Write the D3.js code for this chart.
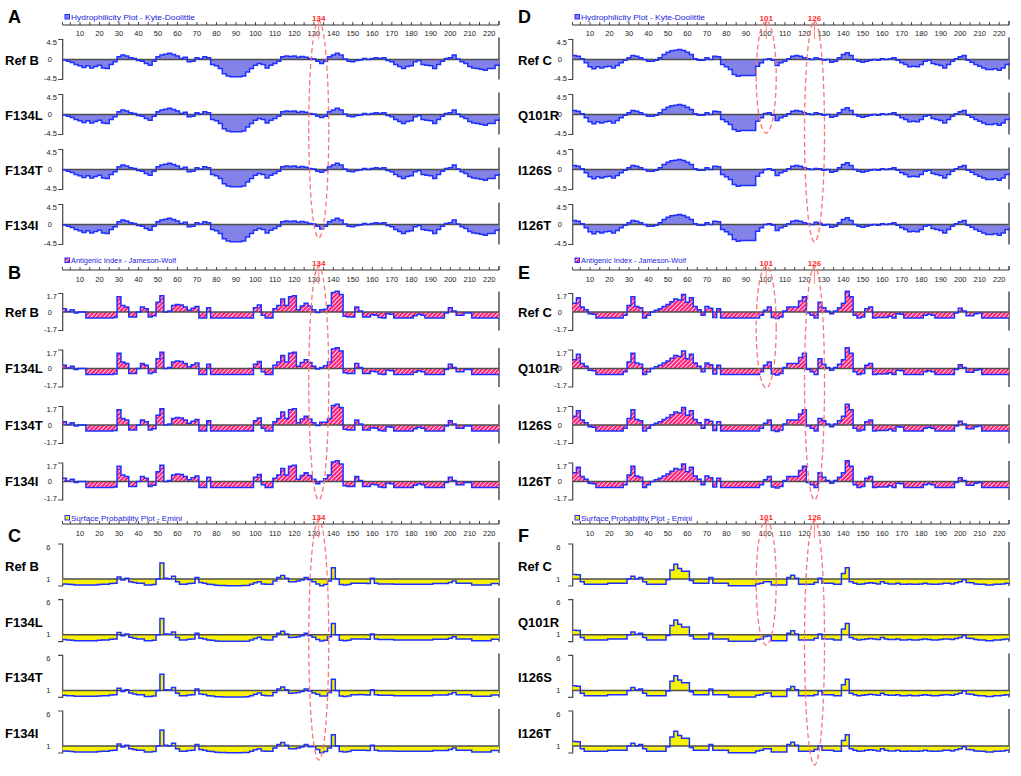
<!DOCTYPE html>
<html>
<head>
<meta charset="utf-8">
<script src="https://cdn.jsdelivr.net/npm/d3@7"></script>
<style>
  body { margin: 0; background: #fff; }
  svg { display: block; }
  text { font-family: Arial, "Liberation Sans", sans-serif; }
</style>
</head>
<body>
<div id="chart"></div>
<script>
// Each value covers a 2-residue bin: bin i = residues 1+2i .. 2+2i
const seqLength = 225;
const binSize = 2;

const tickLabels = d3.range(10, 221, 10);
const tickMarks = [1].concat(d3.range(5, 226, 5));

const hydroTicks = [4.5, 0, -4.5];
const antiTicks = [1.7, 0, -1.7];
const surfTicks = [6, 1];

// Kyte-Doolittle hydrophilicity, reference B
const hydroRefB = [
  -0.1, -0.4, -0.7, -1.1, -1.4, -1.8, -1.4, -1.9, -1.6, -1.3,
  -1.9, -2.0, -1.1, -0.5, 0.6, 1.0, 0.8, 0.4, 0.2, -0.2,
  -0.4, -0.9, -1.3, -0.4, 0.6, 1.0, 1.2, 1.4, 1.1, 0.8,
  0.2, 0.5, -0.5, -0.4, 0.4, 0.1, 0.6, 0.4, -1.1, -1.4,
  -2.0, -3.2, -3.7, -3.9, -3.9, -3.9, -3.7, -2.8, -2.0, -1.3,
  -0.9, -1.1, -1.9, -1.3, -0.9, -0.4, 0.6, 0.8, 0.7, 0.8,
  0.5, 0.7, 0.5, 0.2, 0.1, -0.4, -0.9, -0.4, 0.6, 1.0,
  1.4, 1.0, 0.1, -0.4, -0.5, -0.2, -0.1, 0.2, 0.0, 0.2,
  0.4, 0.2, 0.4, -0.2, -0.5, -1.1, -1.6, -2.0, -1.6, -1.4,
  -0.5, -0.2, -1.1, -1.3, -1.4, -2.0, -1.1, -0.4, 0.2, 0.4,
  1.0, 0.1, -0.5, -0.9, -1.6, -1.9, -2.0, -2.2, -2.4, -2.0,
  -2.0, -1.3, -0.9
];
// reference C
const hydroRefC = [
  0.9, 0.75, 0.15, -0.75, -1.65, -2.1, -1.65, -1.9, -1.65, -1.5,
  -1.9, -1.35, -0.75, -0.15, 0.4, 0.9, 0.75, 0.4, 0, -0.4,
  -0.4, -0.15, 0.4, 1.1, 1.65, 1.95, 2.1, 2.25, 2.0, 1.65,
  1.1, 0.15, -0.15, -0.15, 0.4, 0, 0.75, 0.6, -1.1, -1.65,
  -2.25, -3.4, -3.75, -3.6, -3.6, -3.6, -3.6, -1.5, -0.75, 0,
  0.15, -0.15, -1.35, -0.75, -0.4, 0.15, 0.75, 0.9, 0.75, 0.4,
  0.15, 0, 0.4, 0.15, -0.15, 0, -0.6, -0.4, 0.4, 1.1,
  1.5, 0.9, 0, -0.4, -0.6, -0.4, -0.15, 0, -0.15, 0.15,
  0, 0.15, 0.4, -0.15, -0.75, -1.1, -1.65, -1.5, -1.65, -1.1,
  -0.4, -0.15, -0.9, -1.1, -1.35, -1.9, -1.1, -0.4, 0.15, 0.6,
  0.9, -0.15, -0.6, -1.1, -1.5, -1.9, -2.25, -2.25, -2.1, -2.4,
  -1.9, -1.1, -0.75
];

// Jameson-Wolf antigenic index
const antiRefB = [
  0.3, 0.05, 0.2, -0.1, 0, 0, -0.55, -0.55, -0.55, -0.55,
  -0.55, -0.55, -0.55, -0.5, 1.4, 0.6, 0.45, -0.45, -0.45, 0,
  0.45, 0.3, -0.45, -0.35, 0.9, 1.5, 0, 0.1, 0.6, 0.7,
  0.65, 0.45, 0.15, 0.35, 0.5, -0.55, -0.55, 0.4, -0.55, -0.55,
  -0.55, -0.55, -0.55, -0.55, -0.55, -0.55, -0.55, -0.55, -0.55, 0.4,
  0.65, -0.3, -0.55, -0.55, 0.3, 0.6, 1.2, 0.6, 1.4, 1.5,
  0.2, 0.55, 0.8, 0.55, 0.2, -0.05, 0.2, 0.25, 0.6, 1.8,
  1.9, 1.6, -0.4, -0.45, -0.45, 0.45, 0.1, -0.45, -0.45, -0.25,
  -0.3, -0.5, -0.55, -0.15, -0.2, -0.55, -0.55, -0.55, -0.55, -0.55,
  -0.35, -0.2, -0.3, -0.55, -0.55, -0.55, -0.55, -0.55, -0.1, 0.4,
  0.1, -0.3, -0.3, -0.1, -0.1, -0.55, -0.55, -0.55, -0.55, -0.55,
  -0.55, -0.55, -0.55
];
const antiRefC = [
  0.8, 1.3, 0.45, 0.2, -0.15, -0.2, -0.55, -0.55, -0.55, -0.55,
  -0.55, -0.55, -0.55, -0.3, 0.6, 1.4, 0.5, 0.4, -0.55, -0.3,
  0, 0.15, 0.3, 0.5, 0.7, 0.95, 1.2, 1.1, 1.6, 0.9,
  1.3, 0.5, 0.2, -0.3, 0.5, 0.35, -0.5, 0.3, -0.55, -0.55,
  -0.55, -0.55, -0.55, -0.55, -0.55, -0.55, -0.55, -0.55, -0.3, 0.15,
  0.45, -0.5, -0.6, -0.45, 0.1, 0.45, 0.45, 0.45, 1.0, 1.4,
  -0.1, -0.3, -0.55, 0.9, 0.4, 0.1, -0.15, 0.1, 0.4, 0.8,
  1.9, 1.4, -0.3, -0.55, -0.45, 0.3, 0.45, -0.55, -0.5, -0.5,
  -0.5, -0.4, -0.55, -0.15, -0.2, -0.55, -0.55, -0.55, -0.55, -0.55,
  -0.3, -0.2, -0.3, -0.55, -0.55, -0.55, -0.55, -0.55, -0.1, 0.35,
  0.1, -0.35, -0.35, -0.15, -0.1, -0.55, -0.55, -0.55, -0.55, -0.55,
  -0.55, -0.55, -0.55
];

// Emini surface probability
const surfRefB = [
  0.3, 0.25, 0.22, 0.15, 0.15, 0.15, 0.15, 0.15, 0.15, 0.2,
  0.24, 0.24, 0.35, 0.38, 1.3, 0.85, 1.1, 0.62, 0.5, 0.38,
  0.38, 0.14, 0.14, 0.2, 1.0, 3.3, 1.1, 1.05, 1.4, 0.6,
  0.25, 0.25, 0.35, 0.38, 1.2, 0.5, 0.4, 0.24, 0.2, 0.1,
  0.08, 0.06, 0.05, 0.05, 0.05, 0.05, 0.06, 0.08, 0.24, 0.45,
  0.62, 0.3, 0.24, 0.24, 0.7, 1.2, 1.5, 1.1, 0.6, 0.62,
  0.7, 0.86, 1.2, 0.9, 0.62, 0.3, 0.05, 0.2, 0.7, 2.6,
  1.0, 0.2, 0.14, 0.2, 0.38, 0.38, 0.4, 0.38, 0.35, 1.1,
  0.38, 0.3, 0.3, 0.3, 0.3, 0.24, 0.24, 0.24, 0.24, 0.24,
  0.25, 0.25, 0.25, 0.25, 0.25, 0.35, 0.35, 0.35, 0.35, 0.5,
  0.7, 0.38, 0.38, 0.38, 0.38, 0.15, 0.15, 0.15, 0.15, 0.15,
  0.35, 0.35, 0.35
];
const surfRefC = [
  1.65, 1.6, 0.6, 0.24, 0.24, 0.24, 0.24, 0.24, 0.24, 0.38,
  0.38, 0.38, 0.38, 0.38, 1.0, 1.4, 1.05, 1.2, 0.6, 0.24,
  0.24, 0.24, 0.24, 0.24, 0.9, 2.3, 3.1, 2.5, 2.1, 2.1,
  0.8, 0.38, 0.38, 0.38, 0.38, 1.2, 0.38, 0.38, 0.38, 0.38,
  0.05, 0.05, 0.05, 0.05, 0.05, 0.05, 0.05, 0.3, 0.38, 0.6,
  0.62, 0.14, 0.14, 0.14, 0.14, 1.2, 1.55, 1.1, 0.24, 0.24,
  0.24, 0.24, 0.5, 1.1, 0.38, 0.38, 0.38, 0.24, 0.24, 1.8,
  2.6, 0.6, 0.38, 0.24, 0.3, 0.38, 0.45, 0.38, 0.3, 0.6,
  0.38, 0.3, 0.3, 0.38, 0.24, 0.24, 0.3, 0.24, 0.24, 0.3,
  0.38, 0.3, 0.24, 0.24, 0.3, 0.38, 0.38, 0.3, 0.45, 0.6,
  0.9, 0.5, 0.45, 0.3, 0.24, 0.24, 0.14, 0.14, 0.24, 0.24,
  0.3, 0.38, 0.45
];

// mutant profiles: [bin index, value] where they differ from the reference
const hydroMutants = {
  'F134L': [[66, -0.7]],
  'F134T': [[66, -0.6], [67, -0.2]],
  'F134I': [[66, -1.0]],
  'Q101R': [[49, 0.2], [50, 0.4]],
  'I126S': [[62, 0.2]],
  'I126T': [[62, 0.5], [63, 0.3]]
};
const antiMutants = {
  'F134L': [[66, 0.1]],
  'F134T': [[66, 0.25]],
  'F134I': [[65, -0.2], [66, 0.0]],
  'Q101R': [[49, 0.3], [50, 0.6]],
  'I126S': [[63, 0.6]],
  'I126T': [[63, 0.8]]
};
const surfMutants = {
  'F134L': [[66, 0.1]],
  'F134T': [[65, 0.45], [66, 0.2]],
  'F134I': [[64, 0.9], [65, 0.5]],
  'Q101R': [[49, 0.75], [50, 0.8]],
  'I126S': [[62, 0.38], [63, 0.9]],
  'I126T': [[63, 1.0]]
};

const leftRows = ['Ref B', 'F134L', 'F134T', 'F134I'];
const rightRows = ['Ref C', 'Q101R', 'I126S', 'I126T'];

// ---------------------------------------------------------------
const W = 1021, H = 776;
const outline = '#1e30ff';

const svg = d3.select('#chart').append('svg')
    .attr('width', W)
    .attr('height', H);

const defs = svg.append('defs');
const hatch = defs.append('pattern')
    .attr('id', 'hatch')
    .attr('patternUnits', 'userSpaceOnUse')
    .attr('width', 3)
    .attr('height', 3)
    .attr('patternTransform', 'rotate(45)');
hatch.append('rect').attr('width', 3).attr('height', 3).attr('fill', '#ff1a75');
hatch.append('line')
    .attr('x1', 0.5).attr('y1', 0).attr('x2', 0.5).attr('y2', 3)
    .attr('stroke', '#ffd6e6').attr('stroke-width', 1.1);

const plotTypes = [
    { key: 'hydro', title: 'Hydrophilicity Plot - Kyte-Doolittle', titleLen: 124,
      fill: '#8282e8', domain: [-4.5, 4.5], base: 0, ticks: hydroTicks,
      refs: [hydroRefB, hydroRefC], mutants: hydroMutants,
      letterY: 23, legendY: 19.5, axisY: 25, tickY: 36,
      rowTops: [39.5, 94.5, 149.5, 204.5], rowH: 40, labelDy: 25 },
    { key: 'anti', title: 'Antigenic Index - Jameson-Wolf', titleLen: 105,
      fill: 'url(#hatch)', domain: [-1.7, 1.7], base: 0, ticks: antiTicks,
      refs: [antiRefB, antiRefC], mutants: antiMutants,
      letterY: 279, legendY: 263, axisY: 270, tickY: 281.5,
      rowTops: [293.5, 350, 406.5, 463], rowH: 37, labelDy: 23 },
    { key: 'surf', title: 'Surface Probability Plot - Emini', titleLen: 111,
      fill: '#f6f200', domain: [0, 6], base: 1, ticks: surfTicks,
      refs: [surfRefB, surfRefC], mutants: surfMutants,
      letterY: 542, legendY: 520.5, axisY: 524, tickY: 535.5,
      rowTops: [544, 599.7, 655.4, 711], rowH: 42, labelDy: 27 }
];

const sides = [
    { ox: 0, labelX: 5, letters: ['A', 'B', 'C'], rows: leftRows,
      marks: [{ label: '134', pos: 132.5, ends: [238, 500, 760] }] },
    { ox: 510, labelX: 518, letters: ['D', 'E', 'F'], rows: rightRows,
      marks: [{ label: '101', pos: 100.4, ends: [133, 388, 645] },
              { label: '126', pos: 125.2, ends: [242, 500, 765] }] }
];

function applyMutant(ref, edits) {
    const v = ref.slice();
    (edits || []).forEach(function(e) { v[e[0]] = e[1]; });
    return v;
}

function stepPoints(vals) {
    const pts = vals.map(function(v, i) { return { r: 1 + i * binSize, v: v }; });
    pts.push({ r: 1 + vals.length * binSize, v: vals[vals.length - 1] });
    return pts;
}

sides.forEach(function(side, si) {
    const x = d3.scaleLinear()
        .domain([1, seqLength])
        .range([62.5 + side.ox, 499 + side.ox])
        .clamp(true);

    plotTypes.forEach(function(pt, pi) {
        const g = svg.append('g').classed(pt.key, true);

        // panel letter
        g.append('text')
            .attr('x', 8 + side.ox)
            .attr('y', pt.letterY)
            .style('font-size', '18px')
            .style('font-weight', 'bold')
            .text(side.letters[pi]);

        // legend
        g.append('rect')
            .attr('x', 65 + side.ox).attr('y', pt.legendY - 5)
            .attr('width', 4.5).attr('height', 4.5)
            .attr('fill', pt.fill)
            .attr('stroke', outline).attr('stroke-width', 1);
        g.append('text')
            .attr('x', 71 + side.ox)
            .attr('y', pt.legendY)
            .attr('textLength', pt.titleLen)
            .attr('lengthAdjust', 'spacingAndGlyphs')
            .style('font-size', '8px')
            .style('fill', '#2222dd')
            .text(pt.title);

        // top ruler
        const ruler = g.append('g');
        ruler.append('line')
            .attr('x1', x(1)).attr('x2', x(seqLength))
            .attr('y1', pt.axisY).attr('y2', pt.axisY)
            .attr('stroke', '#333').attr('stroke-width', 1);
        ruler.selectAll('line.tick')
            .data(tickMarks.concat([seqLength]))
            .enter().append('line')
            .attr('class', 'tick')
            .attr('x1', function(d) { return x(d); })
            .attr('x2', function(d) { return x(d); })
            .attr('y1', pt.axisY)
            .attr('y2', function(d) { return d === seqLength ? pt.axisY - 4 : pt.axisY - 3; })
            .attr('stroke', '#333').attr('stroke-width', 0.9);
        ruler.selectAll('text')
            .data(tickLabels)
            .enter().append('text')
            .attr('x', function(d) { return x(d); })
            .attr('y', pt.tickY)
            .attr('text-anchor', 'middle')
            .style('font-size', '7.5px')
            .style('fill', '#222')
            .text(function(d) { return d; });

        // rows
        side.rows.forEach(function(name, ri) {
            const top = pt.rowTops[ri];
            const bottom = top + pt.rowH;
            const y = d3.scaleLinear().domain(pt.domain).range([bottom, top]);
            const ref = pt.refs[si];
            const vals = ri === 0 ? ref : applyMutant(ref, pt.mutants[name]);
            const pts = stepPoints(vals);

            const rg = g.append('g').classed('row', true);

            rg.append('text')
                .attr('x', side.labelX)
                .attr('y', top + pt.labelDy)
                .style('font-size', '13px')
                .style('font-weight', 'bold')
                .text(name);

            // y bracket
            const bx = 62.7 + side.ox;
            rg.append('path')
                .attr('d', 'M' + (bx - 4.5) + ',' + top + 'H' + bx + 'V' + bottom + 'H' + (bx - 4.5))
                .attr('fill', 'none')
                .attr('stroke', '#444').attr('stroke-width', 1.2);

            rg.selectAll('text.ytick')
                .data(pt.ticks)
                .enter().append('text')
                .attr('class', 'ytick')
                .attr('x', function(d) {
                    if (pt.key === 'surf') return 50.5 + side.ox;
                    return d === 0 ? 52 + side.ox : 57 + side.ox;
                })
                .attr('y', function(d) {
                    return Math.max(top + 5.5, Math.min(bottom + 1, y(d) + 2.5));
                })
                .attr('text-anchor', 'end')
                .style('font-size', '7.5px')
                .style('fill', '#222')
                .text(function(d) { return String(d); });

            // right border of the row
            rg.append('line')
                .attr('x1', x(seqLength)).attr('x2', x(seqLength))
                .attr('y1', top - 2).attr('y2', bottom)
                .attr('stroke', '#444').attr('stroke-width', 1.4);

            const area = d3.area()
                .curve(d3.curveStepAfter)
                .x(function(d) { return x(d.r); })
                .y0(y(pt.base))
                .y1(function(d) { return y(d.v); });
            const line = d3.line()
                .curve(d3.curveStepAfter)
                .x(function(d) { return x(d.r); })
                .y(function(d) { return y(d.v); });

            rg.append('path')
                .datum(pts)
                .attr('d', area)
                .attr('fill', pt.fill);

            rg.append('line')
                .attr('x1', x(1)).attr('x2', x(seqLength))
                .attr('y1', y(pt.base)).attr('y2', y(pt.base))
                .attr('stroke', '#4e4e4e').attr('stroke-width', 1.5);

            rg.append('path')
                .datum(pts)
                .attr('d', line)
                .attr('fill', 'none')
                .attr('stroke', outline)
                .attr('stroke-width', 1.5);
        });

        // mutation site markers
        side.marks.forEach(function(m) {
            const cx = x(m.pos);
            const top = pt.axisY - 4;
            const bottom = m.ends[pi];
            g.append('ellipse')
                .attr('cx', cx)
                .attr('cy', (top + bottom) / 2)
                .attr('rx', 10)
                .attr('ry', (bottom - top) / 2)
                .attr('fill', 'none')
                .attr('stroke', '#ff7474')
                .attr('stroke-width', 1.3)
                .attr('stroke-dasharray', '5,3');
            g.append('line')
                .attr('x1', cx).attr('x2', cx)
                .attr('y1', top).attr('y2', top + 18)
                .attr('stroke', '#ff8a8a').attr('stroke-width', 1);
            g.append('text')
                .attr('x', cx)
                .attr('y', top - 0.5)
                .attr('text-anchor', 'middle')
                .style('font-size', '8px')
                .style('font-weight', 'bold')
                .style('fill', '#ff2a2a')
                .text(m.label);
        });
    });
});
</script>
</body>
</html>
